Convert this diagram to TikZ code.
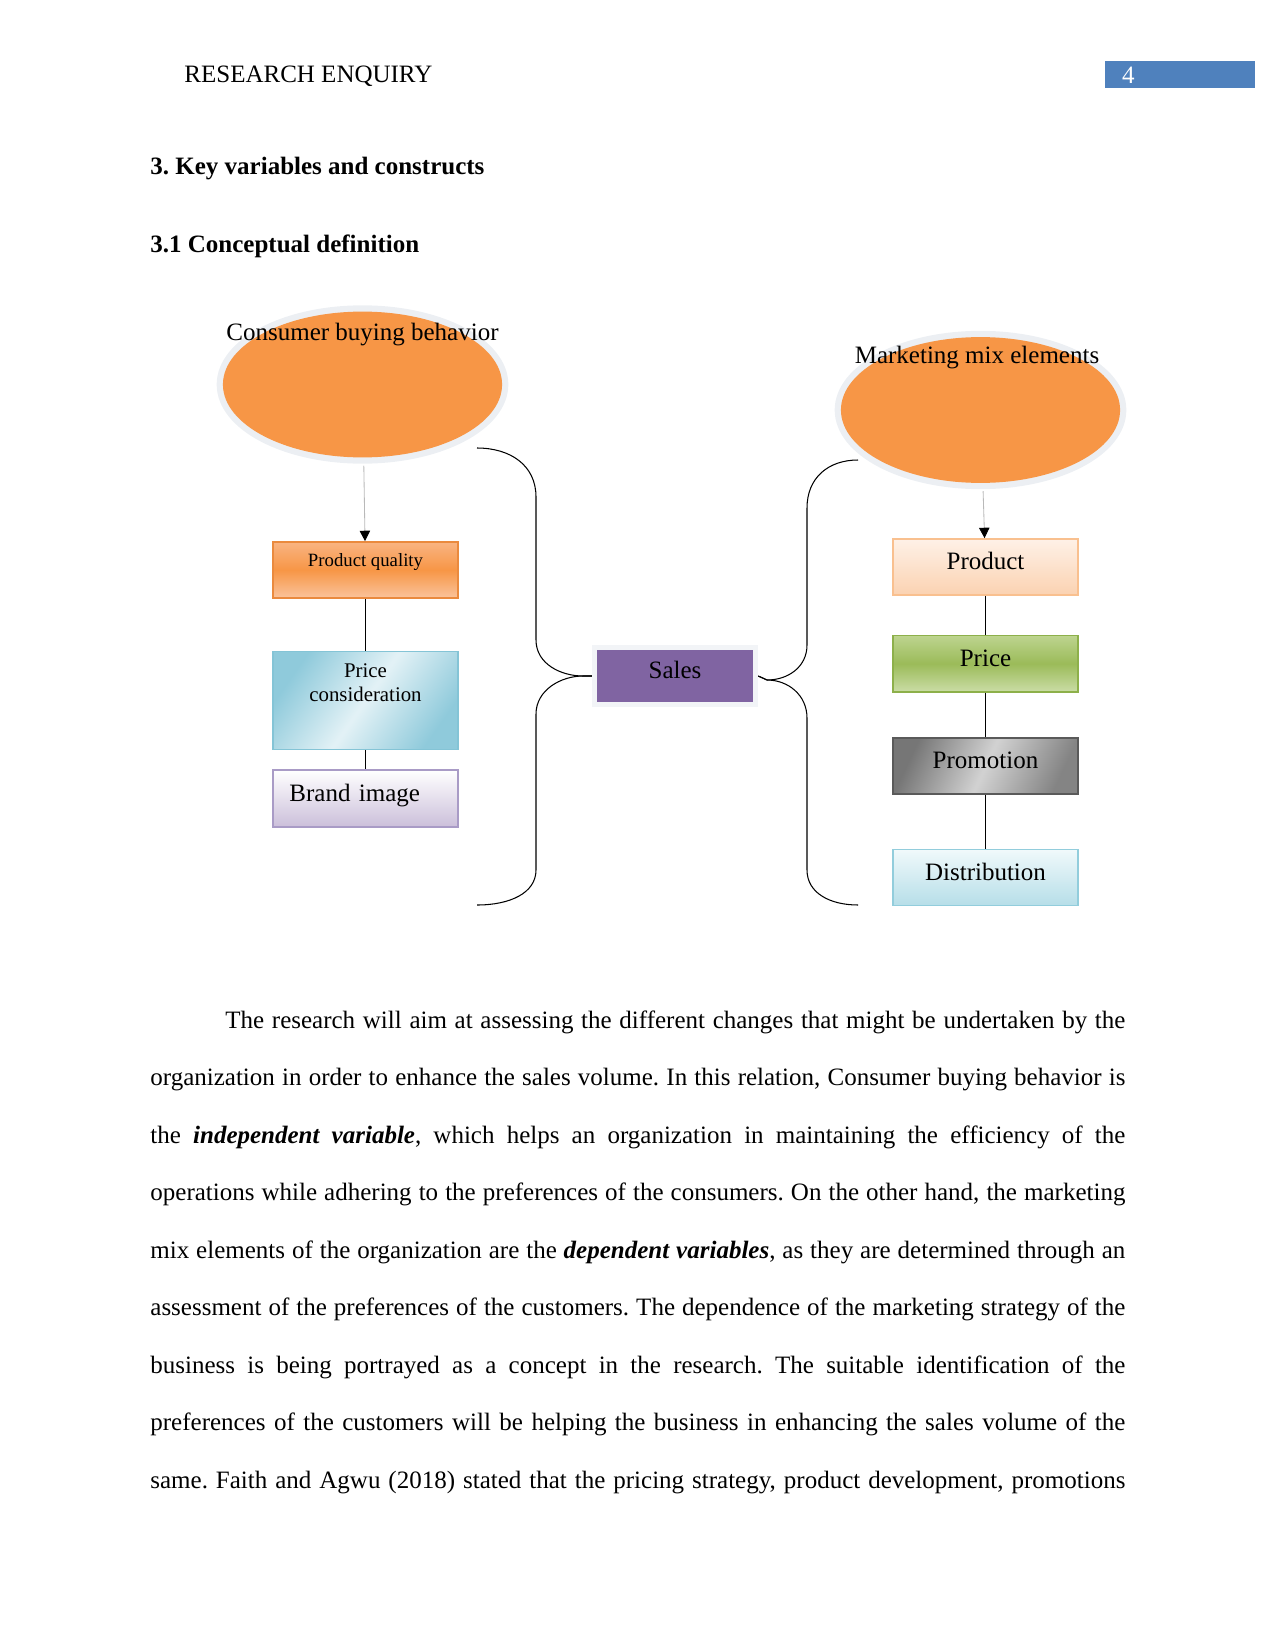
\documentclass[tikz,border=0pt]{standalone}
\usepackage{fontspec}
\setmainfont{Liberation Serif}
\usepackage{xcolor}
\usetikzlibrary{positioning,arrows.meta,shapes.geometric}
\definecolor{HeadBlue}{HTML}{4F81BD}
\definecolor{MixOrange}{HTML}{F79646}
\definecolor{HaloGray}{HTML}{ECEFF3}
\definecolor{SalesPurple}{HTML}{8064A2}
\definecolor{QualTop}{HTML}{F9B482}
\definecolor{QualLine}{HTML}{EA8A3E}
\definecolor{CostBlue}{HTML}{8FCADB}
\definecolor{CostLine}{HTML}{84C4D6}
\definecolor{BrandLow}{HTML}{CBBFDA}
\definecolor{BrandLine}{HTML}{A99BC6}
\definecolor{ProdTop}{HTML}{FEF1E7}
\definecolor{ProdLow}{HTML}{FBD2B1}
\definecolor{ProdLine}{HTML}{F9C08F}
\definecolor{PriceGreen}{HTML}{9BBB59}
\definecolor{PriceLight}{HTML}{BDD48F}
\definecolor{PriceLine}{HTML}{8DB04A}
\definecolor{PromoDark}{HTML}{767676}
\definecolor{PromoLight}{HTML}{D2D2D2}
\definecolor{PromoLine}{HTML}{5A5A5A}
\definecolor{DistTop}{HTML}{F0F9FB}
\definecolor{DistLow}{HTML}{B6DEE8}
\definecolor{DistLine}{HTML}{92CDDC}
\frenchspacing

\begin{document}
\begin{tikzpicture}[x=0.48pt, y=-0.48pt, font=\fontsize{12}{13.8}\selectfont,
        construct/.style={ellipse, fill=MixOrange, minimum width=134pt, minimum height=70pt, preaction={draw=HaloGray, line width=6pt}, outer sep=3pt},
        clabel/.style={anchor=base, inner sep=0pt},
        varbox/.style={rectangle, minimum width=88.8pt, minimum height=26.9pt, inner sep=0pt, text height=8.5pt, text depth=6pt, line width=0.8pt, align=center},
        qualbox/.style={varbox, draw=QualLine, top color=QualTop, bottom color=QualTop!80!white, middle color=MixOrange, font=\fontsize{9}{10.5}\selectfont, text height=6.3pt, text depth=9.2pt},
        costbox/.style={varbox, draw=CostLine, left color=CostBlue, right color=CostBlue, middle color=CostBlue!25!white, shading angle=55, minimum height=47pt, font=\fontsize{10}{11.5}\selectfont, text height=18.3pt, text depth=17.3pt},
        brandbox/.style={varbox, draw=BrandLine, top color=white, bottom color=BrandLow, minimum height=27.4pt, text depth=5.1pt, align=left, text width=73pt, inner xsep=8pt},
        prodbox/.style={varbox, draw=ProdLine, top color=ProdTop, bottom color=ProdLow},
        pricebox/.style={varbox, draw=PriceLine, top color=PriceLight, bottom color=PriceLight!80!white, middle color=PriceGreen},
        promobox/.style={varbox, draw=PromoLine, left color=PromoDark, right color=PromoDark!90!white, middle color=PromoLight, shading angle=65},
        distbox/.style={varbox, draw=DistLine, top color=DistTop, bottom color=DistLow},
        salesbox/.style={rectangle, fill=SalesPurple, minimum width=74.9pt, minimum height=25pt, inner sep=0pt, text height=8.5pt, text depth=6.5pt, preaction={draw=HaloGray!70!white, line width=5pt}, outer sep=2.5pt},
        link/.style={draw=black, line width=0.5pt},
        brace/.style={draw=black, line width=0.5pt},
        mixarrow/.style={draw=gray!55, line width=0.4pt, shorten <=1pt, -{Triangle[length=5pt, width=5pt, color=black]}},
        bodytext/.style={text width=468pt, align=justify, inner sep=0pt, font=\fontsize{12}{27.6}\selectfont}
    ]
    \useasboundingbox (0,0) rectangle (1275,1651);

    % page head and headings
    \node [anchor=base west, inner sep=0pt] (runhead) at (184,83) {RESEARCH ENQUIRY};
    \node [anchor=north west, fill=HeadBlue, minimum width=72pt, minimum height=13pt, inner ysep=0pt, inner xsep=8pt, text width=56pt, align=left, text=white] (pageno) at (1105,61) {4};
    \node [anchor=base west, inner sep=0pt, font=\fontsize{12}{13.8}\selectfont\bfseries] (secthree) at (150,175) {3. Key variables and constructs};
    \node [anchor=base west, inner sep=0pt, font=\fontsize{12}{13.8}\selectfont\bfseries] (secdef) at (150,252) {3.1 Conceptual definition};

    % the two constructs
    \node [construct] (cbb) at (362.5,384.5) {};
    \node [construct] (mme) at (980.5,410) {};
    \node [clabel] (cbblabel) at (362.5,340) {Consumer buying behavior};
    \node [clabel] (mmelabel) at (977,363) {Marketing mix elements};

    % independent side
    \node [qualbox] (quality) at (365.5,570) {Product quality};
    \node [costbox, below=24.9pt of quality] (cost) {Price\\consideration};
    \node [brandbox, below=9pt of cost] (brand) {Brand image};

    % dependent side
    \node [prodbox] (product) at (985.5,567) {Product};
    \node [pricebox, below=18.7pt of product] (price) {Price};
    \node [promobox, below=21.5pt of price] (promo) {Promotion};
    \node [distbox, below=25.8pt of promo] (dist) {Distribution};

    \node [salesbox] (sales) at (675,676) {Sales};

    \draw [mixarrow] (cbb) -- (quality);
    \draw [mixarrow] (mme) -- (product);
    \draw [link] (quality) -- (cost);
    \draw [link] (cost) -- (brand);
    \draw [link] (product) -- (price);
    \draw [link] (price) -- (promo);
    \draw [link] (promo) -- (dist);

    % braces
    \coordinate (lbtop) at (477,448);
    \coordinate (lbbot) at (477,905);
    \coordinate (rbtop) at (858,460);
    \coordinate (rbbot) at (858,905);
    \draw [brace] (lbtop) .. controls (510,448) and (536,465) .. (536,497) -- (536,640) .. controls (536,664) and (561,676) .. (583,676) -- (sales.west);
    \draw [brace] (sales.west) -- (583,676) .. controls (561,676) and (536,690) .. (536,714) -- (536,870) .. controls (536,893) and (510,905) .. (lbbot);
    \draw [brace] (rbtop) .. controls (828,460) and (807,478) .. (807,508) -- (807,645) .. controls (807,667) and (788,680) .. (767,680) -- (sales.east);
    \draw [brace] (sales.east) -- (767,680) .. controls (788,680) and (807,695) .. (807,718) -- (807,870) .. controls (807,893) and (830,905) .. (rbbot);

    % body text
    \node [bodytext, anchor=north west] (body) at (150,1010) {\parfillskip=0pt\noindent\hspace*{36pt}The research will aim at assessing the different changes that might be undertaken by the\linebreak
    organization in order to enhance the sales volume. In this relation, Consumer buying behavior is\linebreak
    the \textbf{\textit{independent variable}}, which helps an organization in maintaining the efficiency of the\linebreak
    operations while adhering to the preferences of the consumers. On the other hand, the marketing\linebreak
    mix elements of the organization are the \textbf{\textit{dependent variables}}, as they are determined through an\linebreak
    assessment of the preferences of the customers. The dependence of the marketing strategy of the\linebreak
    business is being portrayed as a concept in the research. The suitable identification of the\linebreak
    preferences of the customers will be helping the business in enhancing the sales volume of the\linebreak
    same. Faith and Agwu (2018) stated that the pricing strategy, product development, promotions\par};
\end{tikzpicture}
\end{document}
